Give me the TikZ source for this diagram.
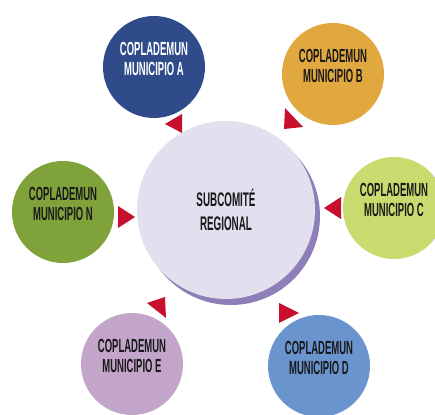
\documentclass[tikz,border=0pt]{standalone}
\usepackage{fontspec}
\setmainfont{Liberation Sans}
\newfontfamily\condfont[FakeStretch=0.5]{Liberation Sans}
\usepackage{xcolor}
\usepackage{tikz}

\definecolor{blueA}{RGB}{47,75,138}
\definecolor{goldB}{RGB}{226,168,64}
\definecolor{limeC}{RGB}{200,219,110}
\definecolor{blueD}{RGB}{106,148,206}
\definecolor{mauveE}{RGB}{194,165,200}
\definecolor{oliveN}{RGB}{127,162,58}
\definecolor{lavender}{RGB}{226,223,238}
\definecolor{lavshadow}{RGB}{142,127,184}
\definecolor{crimson}{RGB}{200,16,46}
\definecolor{inkdark}{RGB}{25,25,25}

\begin{document}
\begin{tikzpicture}[
    mun/.style={circle, minimum size=2.55cm, inner sep=0pt, align=center,
        text depth=0.4cm, text=inkdark,
        font=\condfont\bfseries\fontsize{13.5}{14}\selectfont},
    tri/.style={fill=crimson}
]
        \clip (0,0) rectangle (10.875,10.375);

        % Subcomite regional (with shadow)
        \fill[lavshadow] (5.775,4.975) circle (2.225);
        \node[circle, fill=lavender, minimum size=4.45cm, inner sep=0pt, align=center,
            text=inkdark, font=\condfont\bfseries\fontsize{14}{17}\selectfont]
            (subcomite) at (5.65,5.125) {SUBCOMITÉ\\REGIONAL};

        % Municipios
        \node[mun, fill=blueA, text=white] (munA) at (3.85,8.7) {COPLADEMUN\\MUNICIPIO A};
        \node[mun, fill=goldB] (munB) at (8.325,8.525) {COPLADEMUN\\MUNICIPIO B};
        \node[mun, fill=limeC] (munC) at (9.85,5.175) {COPLADEMUN\\MUNICIPIO C};
        \node[mun, fill=blueD] (munD) at (7.975,1.225) {COPLADEMUN\\MUNICIPIO D};
        \node[mun, fill=mauveE] (munE) at (3.3,1.275) {COPLADEMUN\\MUNICIPIO E};
        \node[mun, fill=oliveN] (munN) at (1.575,5.075) {COPLADEMUN\\MUNICIPIO N};

        % Triangles
        \fill[tri] (4.125,7.275) -- (4.55,7.525) -- (4.55,7.05) -- cycle;
        \fill[tri] (7.125,7.675) -- (7.1,7.15) -- (7.575,7.2) -- cycle;
        \fill[tri] (8.1,5.175) -- (8.525,5.45) -- (8.525,4.9) -- cycle;
        \fill[tri] (7.475,2.55) -- (6.975,2.8) -- (6.975,2.3) -- cycle;
        \fill[tri] (3.675,2.8) -- (4.125,2.95) -- (4.15,2.425) -- cycle;
        \fill[tri] (3.375,4.95) -- (2.95,5.225) -- (2.95,4.675) -- cycle;
\end{tikzpicture}
\end{document}
